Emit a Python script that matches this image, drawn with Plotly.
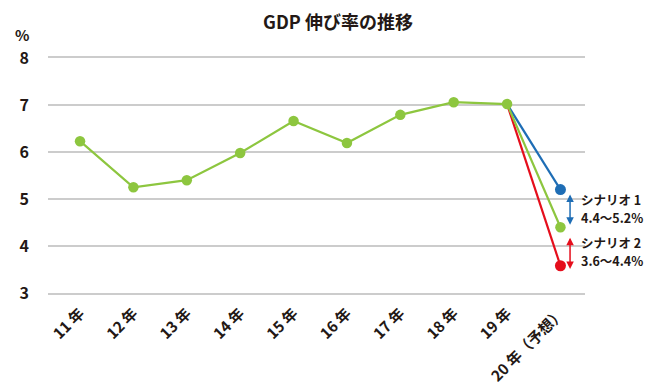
import plotly.graph_objects as go

years = ["11 年", "12 年", "13 年", "14 年", "15 年", "16 年", "17 年", "18 年", "19 年", "20 年（予想）"]
gdp = [6.23, 5.25, 5.4, 5.98, 6.66, 6.19, 6.79, 7.06, 7.02, 4.4]
scen1 = [7.02, 5.2]
scen2 = [7.02, 3.58]
scen_text1 = ["シナリオ 1", "4.4〜5.2%"]
scen_text2 = ["シナリオ 2", "3.6〜4.4%"]

GREEN = "#8DC63F"
BLUE = "#1E6DB5"
RED = "#E50E1C"
TXT = "#231815"
FONT = "Noto Sans CJK JP"

xs = list(range(len(years)))

fig = go.Figure()
for vals, col in [(scen2, RED), (scen1, BLUE)]:
    fig.add_trace(go.Scatter(x=[xs[8], xs[9]], y=vals, mode="lines",
                             line=dict(color=col, width=2.2)))
    fig.add_trace(go.Scatter(x=[xs[9]], y=vals[1:], mode="markers",
                             marker=dict(size=11, color=col)))
fig.add_trace(go.Scatter(x=xs, y=gdp, mode="lines+markers",
                         line=dict(color=GREEN, width=2.2), marker=dict(size=10.5, color=GREEN)))

ax_x = 9.18
fig.add_annotation(x=ax_x, y=4.45, ax=ax_x, ay=5.13, xref="x", yref="y", axref="x", ayref="y",
                   text="", showarrow=True, arrowhead=2, startarrowhead=2, arrowside="end+start",
                   arrowcolor=BLUE, arrowwidth=1.5, arrowsize=1, startarrowsize=1)
fig.add_annotation(x=ax_x, y=3.51, ax=ax_x, ay=4.21, xref="x", yref="y", axref="x", ayref="y",
                   text="", showarrow=True, arrowhead=2, startarrowhead=2, arrowside="end+start",
                   arrowcolor=RED, arrowwidth=1.5, arrowsize=1, startarrowsize=1)
for txt, yv in zip(scen_text1 + scen_text2, [4.98, 4.60, 4.085, 3.70]):
    fig.add_annotation(x=9.35, y=yv, xref="x", yref="y", xanchor="left", yanchor="middle",
                       text="<b>%s</b>" % txt, showarrow=False, align="left",
                       font=dict(size=12.5, color=TXT, family=FONT))
fig.add_annotation(x=-0.048, y=1.098, xref="paper", yref="paper", text="<b>%</b>",
                   showarrow=False, xanchor="center", yanchor="middle",
                   font=dict(size=15, color=TXT, family=FONT))

fig.update_layout(
    width=660, height=387, showlegend=False,
    plot_bgcolor="white", paper_bgcolor="white",
    margin=dict(l=40, r=83, t=50, b=102),
    title=dict(text="<b>GDP 伸び率の推移</b>", x=0.5, xanchor="center", y=0.962, yanchor="middle",
               font=dict(size=18, color=TXT, family=FONT)),
    font=dict(family=FONT, color=TXT),
)
fig.update_xaxes(range=[-0.6, 9.46], tickmode="array", tickvals=xs,
                 ticktext=["<b>%s</b>" % t for t in years], tickangle=-45,
                 showgrid=False, zeroline=False, automargin=False,
                 showline=True, mirror=True, linecolor="#CCCCCC", linewidth=1.5,
                 ticklabelstandoff=4,
                 tickfont=dict(size=15, color=TXT, family=FONT))
fig.update_yaxes(range=[3, 8], tickvals=[3, 4, 5, 6, 7, 8],
                 ticktext=["<b>%d</b>" % v for v in [3, 4, 5, 6, 7, 8]],
                 showgrid=True, gridcolor="#CCCCCC", gridwidth=1.5, zeroline=False, automargin=False,
                 ticklabelstandoff=18, tickfont=dict(size=16, color=TXT, family=FONT))
fig.write_html("out.html")
